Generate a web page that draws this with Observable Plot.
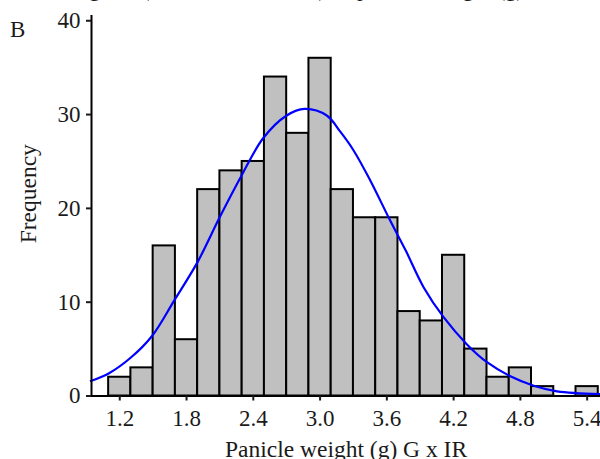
<!DOCTYPE html>
<html>
<head>
<meta charset="utf-8">
<script src="https://cdn.jsdelivr.net/npm/d3@7"></script>
<script src="https://cdn.jsdelivr.net/npm/@observablehq/plot@0.6"></script>
<style>
  html, body { margin: 0; padding: 0; background: #fff; }
  #wrap { position: relative; width: 600px; height: 459px; overflow: hidden;
          font-family: "Liberation Serif", "Times New Roman", serif; color: #1a1a1a; }
  #cliptitle { position: absolute; left: 39px; top: -23px; font-size: 23px; line-height: 23px; white-space: nowrap; }
  #panel { position: absolute; left: 10px; top: 18px; font-size: 23px; line-height: 23px; }
  #chart { position: absolute; left: 0; top: 0; }
</style>
</head>
<body>
<div id="wrap">
  <div id="chart"></div>
  <div id="cliptitle">Histogram (G x IR RIL means) of panicle weight (g)</div>
  <div id="panel">B</div>
</div>
<script>
// Histogram bins (centres, g) and frequencies
const binCenters = [1.2, 1.4, 1.6, 1.8, 2.0, 2.2, 2.4, 2.6, 2.8, 3.0, 3.2, 3.4, 3.6, 3.8, 4.0, 4.2, 4.4, 4.6, 4.8, 5.0, 5.2, 5.4];
const counts     = [2,   3,   16,  6,   22,  24,  25,  34,  28,  36,  22,  19,  19,  9,   8,   15,  5,   2,   3,   1,   0,   1];
const binWidth = 0.2;

// Fitted normal curve
const curveX = [0.94, 1.10, 1.30, 1.49, 1.69, 1.90, 2.10, 2.29, 2.49, 2.70, 2.86, 3.06, 3.18, 3.30, 3.45, 3.63, 3.77, 3.93, 4.11, 4.32, 4.50, 4.71, 4.92, 5.13, 5.52];
const curveY = [1.6,  2.4,  4.1,  6.4,  10.2, 14.3, 19.1, 23.4, 27.5, 29.9, 30.6, 29.9, 28.2, 26.2, 23.0, 18.7, 15.5, 11.6, 8.4,  5.5,  3.6,  2.1,  1.1,  0.5,  0.2];

// Axis ticks and labels
const xTicks = [1.2, 1.8, 2.4, 3.0, 3.6, 4.2, 4.8, 5.4];
const yTicks = [0, 10, 20, 30, 40];
const xLabel = "Panicle weight (g) G x IR";
const yLabel = "Frequency";

const bins = binCenters.map((c, i) => ({x1: c - binWidth / 2, x2: c + binWidth / 2, count: counts[i]}));
const curve = curveX.map((x, i) => ({x, y: curveY[i]}));

const xMin = 0.946, xMax = 5.52;

const chart = Plot.plot({
  width: 600,
  height: 459,
  marginLeft: 91,
  marginRight: 0,
  marginTop: 15,
  marginBottom: 63.5,
  x: {domain: [xMin, xMax]},
  y: {domain: [0, 40.56]},
  style: {fontFamily: "'Liberation Serif', 'Times New Roman', serif", fontSize: "23px", color: "#1a1a1a", background: "transparent", overflow: "visible"},
  marks: [
    Plot.rectY(bins, {x1: "x1", x2: "x2", y: "count", fill: "#c0c0c0", stroke: "#000", strokeWidth: 2}),
    Plot.line(curve, {x: "x", y: "y", stroke: "#0000ff", strokeWidth: 2.2, curve: "catmull-rom"}),
    Plot.ruleY([0], {stroke: "#000", strokeWidth: 2}),
    Plot.ruleX([xMin], {stroke: "#000", strokeWidth: 2}),
    Plot.axisY({ticks: yTicks, tickSize: 5, tickPadding: 6, strokeWidth: 2, label: null, fill: "#1a1a1a"}),
    Plot.axisX({ticks: xTicks, tickSize: 5, tickPadding: 9, strokeWidth: 2, tickFormat: d => d.toFixed(1), label: null, fill: "#1a1a1a"}),
    Plot.text([yLabel], {text: d => d, frameAnchor: "left", rotate: -90, dx: -63, dy: -12, textAnchor: "middle", lineAnchor: "middle", fontSize: 23.5, fill: "#1a1a1a"}),
    Plot.text([xLabel], {text: d => d, frameAnchor: "bottom", dy: 53, textAnchor: "middle", lineAnchor: "middle", fontSize: 23.5, fill: "#1a1a1a"})
  ]
});
document.getElementById("chart").appendChild(chart);
</script>
</body>
</html>
